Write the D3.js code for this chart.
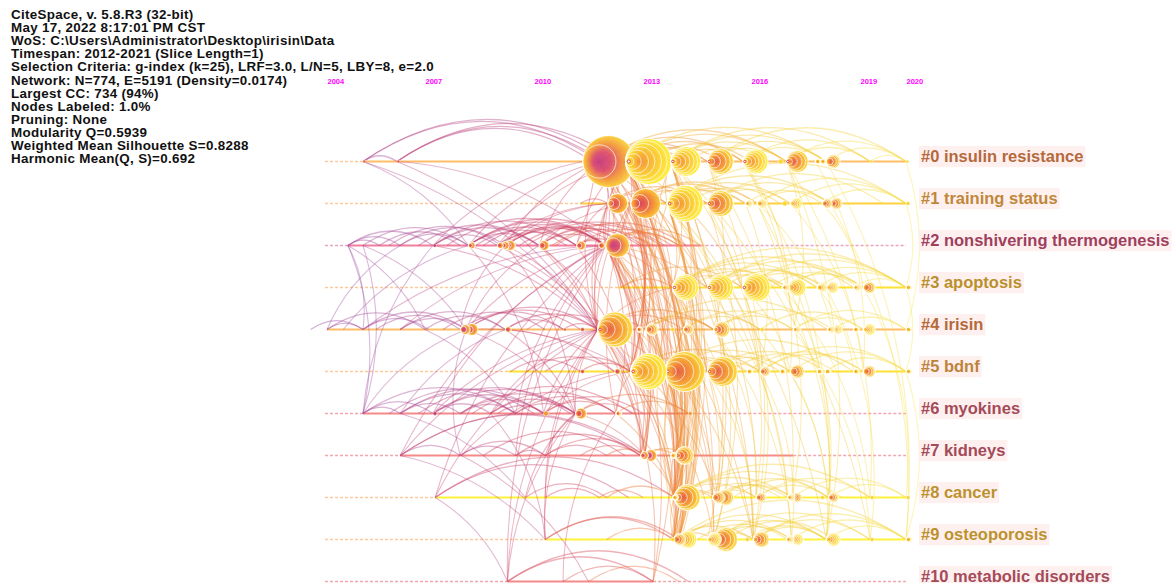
<!DOCTYPE html>
<html><head><meta charset="utf-8">
<script src="https://cdn.jsdelivr.net/npm/d3@7"></script>
<style>
html,body{margin:0;padding:0;background:#fff;}
svg{display:block;}
</style></head><body>
<svg id="chart" width="1173" height="583"></svg>
<script>
// ---------------- data ----------------
const headerLines = [
  "CiteSpace, v. 5.8.R3 (32-bit)",
  "May 17, 2022 8:17:01 PM CST",
  "WoS: C:\\Users\\Administrator\\Desktop\\irisin\\Data",
  "Timespan: 2012-2021 (Slice Length=1)",
  "Selection Criteria: g-index (k=25), LRF=3.0, L/N=5, LBY=8, e=2.0",
  "Network: N=774, E=5191 (Density=0.0174)",
  "Largest CC: 734 (94%)",
  "Nodes Labeled: 1.0%",
  "Pruning: None",
  "Modularity Q=0.5939",
  "Weighted Mean Silhouette S=0.8288",
  "Harmonic Mean(Q, S)=0.692"
];
const yearTicks = [2004, 2007, 2010, 2013, 2016, 2019, 2020];
const clusterIds = [0,1,2,3,4,5,6,7,8,9,10];
const clusterLabels = ["#0 insulin resistance","#1 training status","#2 nonshivering thermogenesis","#3 apoptosis","#4 irisin","#5 bdnf","#6 myokines","#7 kidneys","#8 cancer","#9 osteoporosis","#10 metabolic disorders"];
// solid part of each timeline [start, end]
const lineSpans = [[2005.10,2020],[2011.28,2020],[2004.64,2014.60],[2012.33,2020],[2004.0,2020],[2009.30,2020],[2005.10,2014.26],[2006.24,2017.16],[2007.28,2020],[2010.31,2020],[2009.27,2013.28]];
// nodes: [cluster, year (left edge), radius, tone]
const nodes = [
 [0,2005.10,1.5,1],[0,2006.14,1.5,1],[0,2011.34,26,0],[0,2012.52,23,3],[0,2013.77,15,3],[0,2014.79,13,2],[0,2015.78,12.5,3],[0,2016.75,2.5,3],[0,2016.97,11,2],[0,2017.77,3,3],[0,2017.91,3,3],[0,2018.07,7,2],[0,2019.22,1.5,3],[0,2020,1.5,3],
 [1,2012.03,10,1],[1,2012.66,15,1],[1,2013.67,18,3],[1,2014.79,13,2],[1,2015.84,4,3],[1,2016.17,5,3],[1,2016.86,2.5,3],[1,2017.08,6,3],[1,2017.96,5,2],[1,2018.18,6,2],[1,2020,2,3],
 [2,2007.22,1.8,0],[2,2008.19,3.5,1],[2,2008.99,3,1],[2,2009.10,4,1],[2,2009.21,5,1],[2,2010.14,5,1],[2,2011.17,4.5,1],[2,2011.78,3,1],[2,2011.97,12,0],
 [3,2013.82,13,3],[3,2014.79,13,3],[3,2015.76,14,3],[3,2016.86,4,3],[3,2017.02,9,3],[3,2017.82,5,3],[3,2018.07,6,3],[3,2018.82,4,3],[3,2019.07,6,2],[3,2020,3,3],
 [4,2007.97,5,0],[4,2008.13,6,1],[4,2009.21,3,0],[4,2010.81,1.5,1],[4,2011.28,2,1],[4,2011.75,17.5,2],[4,2012.83,3,2],[4,2013.08,6,2],[4,2013.77,2,3],[4,2014.12,5,2],[4,2014.96,8,2],[4,2016.25,2,3],[4,2017.16,4,3],[4,2018.10,4,3],[4,2018.24,5,3],[4,2018.82,3,3],[4,2019.07,6,3],[4,2020,3,3],
 [5,2011.28,2,1],[5,2012.22,3,0],[5,2012.66,18,3],[5,2013.61,20,2],[5,2014.79,15,2],[5,2015.89,3,3],[5,2016.25,5,2],[5,2016.80,3,3],[5,2017.08,7,2],[5,2017.82,3,3],[5,2018.04,3,3],[5,2018.82,3,3],[5,2019.07,6,2],[5,2020,3,3],
 [6,2007.22,2,0],[6,2010.26,2.5,2],[6,2011.14,5.5,1],[6,2012.25,3,2],[6,2014.26,2,2],
 [7,2012.93,4,1],[7,2013.05,6,0],[7,2013.77,3,3],[7,2013.90,9,2],
 [8,2013.82,3,3],[8,2013.87,13,2],[8,2014.93,6,2],[8,2015.07,8,2],[8,2016.14,5,2],[8,2017.0,4,3],[8,2017.13,5,2],[8,2017.91,2,3],[8,2018.13,5,2],[8,2019.22,2,3],[8,2020,2,3],
 [9,2013.77,2,3],[9,2013.85,6,2],[9,2013.99,9,3],[9,2014.79,7,3],[9,2014.96,12,2],[9,2015.84,2,3],[9,2016.06,8,2],[9,2016.97,4,3],[9,2017.11,6,3],[9,2018.07,7,3],[9,2019.22,2,3],[9,2020,3,3]
];
// arcs inside one timeline: [cluster, year1, year2]
const sameRowArcs = [
 [0,2005.10,2006.14],[0,2005.10,2011.80],[0,2005.10,2012.10],[0,2006.14,2011.60],[0,2006.14,2011.90],[0,2006.14,2012.40],
 [0,2011.80,2013.77],[0,2011.80,2014.79],[0,2011.80,2015.78],[0,2011.80,2016.97],[0,2012.20,2014.20],[0,2012.52,2014.79],[0,2012.52,2015.78],[0,2012.52,2016.97],[0,2012.52,2018.07],[0,2012.80,2015.20],[0,2013.10,2016.00],[0,2013.77,2015.78],[0,2013.77,2016.97],[0,2013.77,2018.07],[0,2013.77,2019.22],[0,2014.20,2016.50],[0,2014.79,2016.97],[0,2014.79,2018.07],[0,2014.79,2020.00],[0,2015.78,2018.07],[0,2015.78,2019.22],[0,2016.97,2019.22],[0,2016.97,2020.00],[0,2018.07,2020.00],[0,2019.22,2020.00],[0,2012.52,2013.77],[0,2011.80,2012.52],
 [1,2011.28,2012.03],[1,2012.03,2012.66],[1,2012.03,2013.67],[1,2012.03,2014.79],[1,2012.66,2013.67],[1,2012.66,2014.79],[1,2012.66,2015.84],[1,2012.66,2016.17],[1,2013.00,2015.50],[1,2013.67,2015.84],[1,2013.67,2016.17],[1,2013.67,2017.08],[1,2013.67,2018.18],[1,2014.20,2016.80],[1,2014.79,2017.08],[1,2014.79,2018.18],[1,2014.79,2019.50],[1,2015.84,2017.96],[1,2016.17,2018.18],[1,2016.17,2020.00],[1,2017.08,2020.00],[1,2017.96,2020.00],[1,2013.67,2020.00],
 [2,2004.64,2005.60],[2,2004.64,2006.24],[2,2004.64,2007.22],[2,2005.10,2008.19],[2,2005.60,2007.97],[2,2005.90,2009.10],[2,2006.24,2008.19],[2,2006.24,2009.21],[2,2006.80,2010.14],[2,2007.22,2008.99],[2,2007.22,2010.14],[2,2007.22,2011.17],[2,2007.60,2011.97],[2,2008.19,2010.14],[2,2008.19,2011.17],[2,2008.19,2011.97],[2,2008.19,2012.52],[2,2008.60,2012.00],[2,2008.99,2011.17],[2,2008.99,2011.97],[2,2009.21,2011.97],[2,2009.21,2012.30],[2,2009.21,2013.00],[2,2009.60,2012.60],[2,2010.14,2011.97],[2,2010.14,2012.90],[2,2010.14,2013.50],[2,2010.60,2013.20],[2,2011.17,2011.97],[2,2011.17,2012.30],[2,2011.17,2013.80],[2,2011.78,2014.00],[2,2011.97,2013.30],[2,2011.97,2014.00],[2,2011.97,2014.60],[2,2010.50,2014.20],[2,2009.80,2013.60],[2,2008.40,2010.90],
 [3,2012.40,2013.82],[3,2012.40,2015.76],[3,2013.82,2014.79],[3,2013.82,2015.76],[3,2013.82,2016.86],[3,2013.82,2017.82],[3,2013.82,2020.00],[3,2014.30,2017.00],[3,2014.79,2016.86],[3,2014.79,2017.82],[3,2014.79,2019.07],[3,2014.79,2020.00],[3,2015.20,2018.00],[3,2015.76,2017.02],[3,2015.76,2018.07],[3,2015.76,2019.07],[3,2015.76,2020.00],[3,2016.50,2019.00],[3,2016.86,2019.07],[3,2017.02,2020.00],[3,2017.82,2020.00],[3,2018.82,2020.00],[3,2013.82,2018.82],
 [4,2003.50,2005.10],[4,2004.00,2005.10],[4,2004.00,2007.00],[4,2005.10,2007.10],[4,2005.10,2008.13],[4,2005.50,2007.97],[4,2006.24,2008.13],[4,2006.24,2009.21],[4,2007.00,2009.21],[4,2007.50,2010.30],[4,2007.97,2010.81],[4,2008.13,2011.28],[4,2008.13,2011.75],[4,2009.21,2011.75],[4,2009.21,2010.81],[4,2009.80,2012.20],[4,2010.81,2011.75],[4,2011.75,2013.08],[4,2011.75,2014.12],[4,2011.75,2014.96],[4,2012.83,2014.96],[4,2013.08,2014.96],[4,2013.08,2016.25],[4,2014.12,2016.25],[4,2014.12,2017.16],[4,2014.96,2017.16],[4,2014.96,2018.24],[4,2016.25,2019.07],[4,2017.16,2019.07],[4,2017.16,2020.00],[4,2018.24,2020.00],[4,2013.08,2018.10],
 [5,2009.35,2011.28],[5,2009.80,2012.22],[5,2010.30,2012.66],[5,2011.28,2012.66],[5,2012.22,2013.61],[5,2012.66,2013.61],[5,2012.66,2014.79],[5,2012.66,2016.25],[5,2013.20,2015.50],[5,2013.61,2014.79],[5,2013.61,2015.89],[5,2013.61,2017.08],[5,2013.61,2018.82],[5,2014.30,2016.80],[5,2014.79,2016.25],[5,2014.79,2017.08],[5,2014.79,2018.04],[5,2015.40,2018.30],[5,2015.89,2019.07],[5,2016.25,2019.07],[5,2017.08,2020.00],[5,2018.04,2020.00],[5,2016.25,2020.00],
 [6,2005.10,2006.24],[6,2005.10,2007.22],[6,2005.10,2009.49],[6,2005.90,2010.00],[6,2006.24,2007.97],[6,2006.24,2009.49],[6,2006.24,2010.26],[6,2006.80,2011.00],[6,2007.22,2008.80],[6,2007.22,2010.26],[6,2007.22,2011.14],[6,2007.97,2010.26],[6,2007.97,2011.14],[6,2008.30,2012.70],[6,2008.80,2011.14],[6,2008.80,2012.25],[6,2009.49,2011.14],[6,2009.49,2012.25],[6,2010.26,2012.25],[6,2010.26,2013.00],[6,2011.14,2012.74],[6,2011.14,2014.26],[6,2012.25,2014.26],[6,2009.00,2010.30],[6,2008.00,2009.50],
 [7,2006.24,2007.97],[7,2006.24,2012.93],[7,2006.24,2013.05],[7,2007.97,2009.49],[7,2007.97,2010.31],[7,2008.60,2012.50],[7,2009.49,2010.31],[7,2009.49,2012.93],[7,2010.31,2012.00],[7,2010.31,2013.05],[7,2011.28,2012.93],[7,2012.00,2013.05],[7,2012.93,2013.90],[7,2013.05,2014.20],
 [8,2007.28,2012.60],[8,2007.28,2013.87],[8,2009.76,2012.00],[8,2010.31,2011.80],[8,2011.80,2013.00],[8,2012.00,2013.87],[8,2013.87,2014.93],[8,2013.87,2015.07],[8,2013.87,2016.14],[8,2013.87,2017.13],[8,2013.87,2018.13],[8,2013.87,2019.22],[8,2014.50,2016.80],[8,2014.93,2016.14],[8,2014.93,2017.00],[8,2015.07,2017.13],[8,2015.07,2018.13],[8,2015.50,2018.50],[8,2016.14,2018.13],[8,2016.14,2019.22],[8,2017.13,2020.00],[8,2018.13,2020.00],
 [9,2010.31,2013.85],[9,2010.31,2014.00],[9,2012.00,2013.85],[9,2013.85,2014.96],[9,2013.85,2016.06],[9,2013.85,2020.00],[9,2013.99,2017.11],[9,2013.99,2018.07],[9,2014.50,2017.00],[9,2014.96,2016.06],[9,2014.96,2017.11],[9,2014.96,2018.07],[9,2014.96,2019.22],[9,2015.30,2018.30],[9,2015.84,2018.07],[9,2016.06,2018.07],[9,2016.06,2019.22],[9,2016.06,2020.00],[9,2017.11,2020.00],[9,2018.07,2020.00],
 [10,2009.27,2013.28],[10,2009.27,2014.26],[10,2010.80,2013.28],[10,2011.50,2014.00]
];
// links between timelines: [cluster1, year1, cluster2, year2]
const crossLinks = [
 [0,2011.80,7,2013.05],[0,2011.80,8,2013.87],[0,2011.80,9,2013.85],[0,2011.90,8,2013.90],[0,2012.52,7,2013.90],[0,2012.52,8,2013.87],[0,2012.52,9,2013.99],[0,2012.60,8,2013.82],[0,2012.70,9,2013.77],[0,2013.77,7,2013.90],[0,2013.77,8,2013.87],[0,2013.77,9,2013.99],[0,2013.85,9,2014.79],
 [1,2012.03,7,2013.05],[1,2012.03,8,2013.87],[1,2012.66,8,2013.87],[1,2012.66,9,2013.85],[1,2012.66,7,2012.93],[1,2013.67,7,2013.90],[1,2013.67,8,2013.87],[1,2013.67,9,2013.99],[1,2013.70,9,2013.85],
 [2,2011.97,7,2013.05],[2,2011.97,7,2012.93],[2,2011.97,8,2013.87],[2,2011.97,9,2013.85],[2,2011.17,7,2012.93],[2,2010.14,7,2013.05],
 [3,2013.82,7,2013.90],[3,2013.82,8,2013.87],[3,2013.82,9,2013.85],[3,2013.82,9,2013.99],
 [4,2011.75,7,2013.05],[4,2011.75,8,2013.87],[4,2011.75,9,2013.99],[4,2012.83,8,2013.87],[4,2013.08,9,2013.85],[4,2013.08,7,2013.90],
 [5,2012.66,7,2013.05],[5,2012.66,8,2013.87],[5,2012.66,9,2013.85],[5,2013.61,8,2013.87],[5,2013.61,9,2013.99],[5,2013.61,7,2013.90],[5,2012.22,7,2012.93],
 [6,2012.25,8,2013.87],[6,2011.14,7,2013.05],[7,2013.90,9,2013.99],[7,2013.05,8,2013.87],[8,2013.87,9,2013.85],
 [0,2012.52,10,2013.28],[2,2011.97,10,2013.28],[4,2011.75,10,2013.28],
 [1,2013.67,9,2013.95],[0,2013.80,8,2013.95],[3,2013.85,9,2013.90],[4,2014.12,9,2013.99],[4,2014.12,8,2013.87],[5,2013.70,8,2013.90],[5,2013.75,9,2014.00],[2,2012.10,8,2013.85],[2,2012.20,9,2013.99],[1,2012.70,9,2013.99],[0,2012.55,9,2013.85],[3,2013.90,8,2013.82],[4,2013.90,7,2013.90],[5,2013.65,9,2013.80],[4,2014.00,9,2014.05],[5,2013.80,8,2013.95],
 [1,2012.66,5,2012.70],[0,2012.55,5,2012.66],[2,2012.20,5,2012.66],[1,2012.70,4,2012.83],[0,2012.60,4,2012.83],[2,2011.97,4,2012.83],[1,2012.66,3,2012.40],[0,2012.52,3,2012.40],[2,2012.00,6,2012.25],[1,2012.70,6,2012.25],[4,2012.83,7,2012.93],[5,2012.70,6,2012.25],[2,2012.05,5,2012.75],[1,2012.60,5,2012.80],
 [0,2011.80,1,2012.03],[0,2011.80,1,2012.66],[0,2011.80,2,2011.97],[0,2011.80,3,2013.82],[0,2011.80,4,2011.75],[0,2011.80,5,2012.66],[0,2011.80,5,2013.61],
 [0,2012.52,1,2012.66],[0,2012.52,2,2011.97],[0,2012.52,3,2013.82],[0,2012.52,4,2013.08],[0,2012.52,5,2012.66],[0,2012.52,5,2013.61],[0,2012.52,4,2011.75],
 [0,2013.77,1,2013.67],[0,2013.77,3,2013.82],[0,2013.77,5,2013.61],[0,2013.77,4,2014.12],
 [1,2012.03,2,2011.97],[1,2012.03,4,2011.75],[1,2012.66,4,2011.75],[1,2012.66,5,2012.66],[1,2012.66,4,2013.08],[1,2013.67,3,2013.82],[1,2013.67,5,2013.61],[1,2013.67,4,2014.12],
 [2,2011.97,4,2011.75],[2,2011.97,5,2012.66],[2,2011.97,3,2013.82],[2,2011.97,5,2013.61],
 [3,2013.82,5,2013.61],[3,2013.82,4,2014.12],[4,2011.75,5,2012.66],[4,2011.75,5,2013.61],[4,2013.08,5,2013.61],
 [0,2011.80,2,2008.19],[0,2011.80,2,2009.21],[0,2011.80,2,2010.14],[0,2012.52,2,2011.17],[0,2012.52,2,2008.99],[1,2012.03,2,2008.99],[1,2012.66,2,2010.14],[1,2012.03,2,2011.17],[0,2011.34,2,2007.22],[1,2012.03,2,2009.21],
 [0,2006.14,2,2011.97],[0,2005.10,4,2011.75],[0,2006.14,4,2011.75],[0,2005.10,2,2008.19],
 [4,2005.10,2,2011.97],[4,2006.24,2,2011.97],[4,2008.13,2,2011.97],[4,2008.13,2,2010.14],[4,2007.97,2,2009.21],[2,2007.22,4,2011.75],[2,2008.19,4,2011.75],[2,2005.10,4,2008.13],[2,2009.21,4,2011.75],[2,2010.14,4,2011.75],
 [6,2007.22,4,2011.75],[6,2005.10,4,2008.13],[6,2008.80,4,2011.75],[6,2011.14,4,2011.75],[6,2007.22,2,2011.97],[6,2009.49,2,2011.97],[6,2006.24,4,2009.21],[6,2010.26,4,2011.75],
 [7,2006.24,4,2011.75],[7,2009.49,2,2011.97],[7,2006.24,2,2011.97],[7,2007.97,4,2008.13],[7,2010.31,6,2011.14],
 [4,2009.21,6,2011.14],[2,2009.21,6,2011.14],[2,2008.19,6,2010.26],[4,2008.13,6,2011.14],
 [2,2010.14,5,2012.66],[4,2008.13,5,2012.66],[6,2010.26,5,2012.66],[4,2009.21,5,2012.22],[2,2008.99,5,2012.66],
 [8,2007.28,4,2011.75],[8,2009.76,6,2011.14],[8,2007.28,2,2011.97],[8,2010.31,4,2011.75],
 [10,2009.27,6,2011.14],[10,2009.27,4,2011.75],[10,2009.27,2,2011.97],[10,2010.80,6,2012.25],
 [7,2008.00,5,2012.22],[9,2010.31,6,2011.14],[9,2010.31,4,2011.75],
 [2,2004.64,6,2005.10],[2,2004.64,4,2005.10],[2,2005.10,6,2005.10],[4,2004.50,2,2008.19],[2,2004.64,4,2007.00],[3,2010.50,2,2011.97],
 [4,2004.00,2,2006.24],[6,2005.10,2,2007.22],[4,2007.00,6,2009.49],[6,2006.24,8,2009.76],[7,2006.24,9,2010.31],[6,2008.80,9,2010.31],[8,2007.28,10,2009.27],[7,2008.00,10,2011.50],
 [0,2015.78,5,2017.08],[0,2016.97,9,2018.07],[1,2016.17,8,2017.13],[0,2018.07,9,2020.00],[1,2018.18,9,2020.00],[3,2015.76,9,2016.06],[3,2017.02,8,2018.13],[0,2014.79,9,2016.06],[1,2014.79,8,2016.14],[0,2012.52,9,2016.06],[1,2013.67,9,2017.11],[0,2013.77,5,2016.25],[0,2012.52,3,2015.76],[1,2012.66,3,2014.79],[0,2013.77,8,2015.07],[1,2014.79,9,2014.96],[3,2014.79,9,2014.96],[3,2013.82,8,2015.07],[5,2014.79,9,2016.06],[4,2014.96,9,2017.11],[5,2017.08,9,2018.07],[4,2016.25,8,2018.13],[0,2016.97,4,2017.16],[1,2017.08,5,2019.07],[3,2018.07,9,2019.22],[5,2013.61,9,2014.96],[4,2013.08,8,2015.07],[0,2011.80,9,2014.96],[2,2011.97,9,2016.06],[1,2012.66,8,2014.93],[0,2015.78,8,2018.13],[1,2016.17,4,2018.24],[3,2016.86,9,2018.07],[0,2012.52,9,2018.07],[0,2013.77,9,2019.22],[1,2015.84,5,2016.25],[3,2015.76,5,2017.08],[3,2017.82,5,2018.82],[0,2014.79,4,2014.96],[1,2014.79,3,2015.76],[0,2015.78,3,2017.02],[1,2017.96,3,2019.07],[0,2014.79,8,2017.13],[1,2013.67,8,2016.14],[3,2014.79,8,2017.00],[4,2014.96,8,2016.14],[5,2014.79,8,2015.07],[5,2016.25,9,2017.11],[4,2017.16,9,2019.22],[3,2019.07,8,2020.00],[1,2020.00,3,2020.00],[3,2020.00,5,2020.00],[5,2020.00,9,2020.00],[0,2020.00,4,2020.00],[1,2012.03,5,2014.79],[0,2011.80,3,2014.79],[2,2011.97,3,2014.79],[2,2011.97,5,2014.79],[4,2011.75,3,2013.82],[4,2011.75,8,2015.07],[5,2012.66,9,2014.96],[0,2012.52,5,2014.79],[1,2013.67,5,2016.25],[3,2013.82,9,2016.06],[2,2011.97,8,2014.93],[4,2012.83,9,2016.06],[0,2016.97,8,2019.22],[1,2016.17,9,2018.07],[3,2016.86,8,2019.22],[0,2017.77,5,2019.07]
];
// colours
const labelColors = ["#b5693c","#c0873a","#9e3f5e","#b9902c","#b36a3a","#bd833a","#a44a58","#a44a58","#bb922c","#bb922c","#a44a58"];
const lineColors = ["#ffbd66","#ffd23c","#f47e9c","#ffe233","#ffbd66","#ffe233","#f58a8a","#f58a8a","#fff23a","#fff23a","#f58a8a"];
const dashColors = ["#fdc99a","#fdc99a","#eba4c4","#fdc99a","#fdc99a","#fdc99a","#f4a6b0","#f4a6b0","#fdc99a","#fdc99a","#f4a6b0"];
const linkYears = [2005,2008,2010,2011.8,2012.8,2014.2,2015.5,2020];
const linkColors = ["#a04aa0","#b04a90","#c8406c","#d84858","#ea7038","#f0a030","#f4c838","#f7e44a"];
const toneStops = [
  [[0,"#c43d82"],[0.35,"#dc4d6e"],[0.7,"#f39a3c"],[1,"#fcd43c"]],
  [[0,"#d43f5e"],[0.45,"#ee6e40"],[0.8,"#f6a832"],[1,"#fbc83a"]],
  [[0,"#e45a46"],[0.4,"#f28a36"],[0.75,"#f8b830"],[1,"#fde03c"]],
  [[0,"#f29034"],[0.35,"#f8b630"],[0.7,"#fcd834"],[1,"#fff03e"]]
];
const dotColors = ["#c8406c","#e0604a","#f09a36","#f8d634"];
const ringFracs = [[0.64],[0.3,0.6],[0.28,0.5,0.72,0.88],[0.18,0.34,0.5,0.64,0.78,0.9]];

// ---------------- drawing ----------------
const svg = d3.select("#chart");
const x = d3.scaleLinear().domain(yearTicks).range([327,425,534,643,751,860,906]);
const y = d3.scaleLinear().domain([0,10]).range([161.5,581.5]);
const linkColor = d3.scaleLinear().domain(linkYears).range(linkColors);

svg.append("rect").attr("width",1173).attr("height",583).attr("fill","#fff");

const defs = svg.append("defs");
toneStops.forEach((stops,i)=>{
  const g = defs.append("radialGradient").attr("id","tone"+i)
    .attr("cx","0.5").attr("cy","0.5").attr("r","0.5").attr("fx","0.3").attr("fy","0.5");
  stops.forEach(s=>g.append("stop").attr("offset",s[0]).attr("stop-color",s[1]));
});

// header
const hdr = svg.append("g")
  .attr("font-family","'Liberation Sans', Arial, sans-serif")
  .attr("font-weight","bold").attr("font-size","13.4px").attr("letter-spacing","0.3px").attr("fill","#111");
headerLines.forEach((t,i)=>hdr.append("text").attr("x",11).attr("y",19.3+i*13.04).text(t));

// year axis
const axis = d3.axisTop(x).tickValues(yearTicks).tickFormat(d3.format("d")).tickSize(0).tickPadding(0);
const ag = svg.append("g").attr("transform","translate(0,84)").call(axis);
ag.select(".domain").remove();
ag.selectAll("text").attr("text-anchor","start").attr("fill","#ff00ff")
  .attr("font-family","'Liberation Sans', Arial, sans-serif").attr("font-weight","bold").attr("font-size","7.5px");

// timelines
const lines = svg.append("g");
clusterIds.forEach(c=>{
  const [s,e] = lineSpans[c];
  const yy = y(c);
  if (s > 2004) lines.append("line").attr("x1",x(2004)-2).attr("x2",x(s)).attr("y1",yy).attr("y2",yy)
     .attr("stroke",dashColors[c]).attr("stroke-width",1.5).attr("stroke-dasharray","3,2");
  lines.append("line").attr("x1",x(s)).attr("x2",x(e)).attr("y1",yy).attr("y2",yy)
     .attr("stroke",lineColors[c]).attr("stroke-width",2.2);
  if (e < 2020) lines.append("line").attr("x1",x(e)).attr("x2",x(2020)).attr("y1",yy).attr("y2",yy)
     .attr("stroke",dashColors[c]).attr("stroke-width",1.5).attr("stroke-dasharray","3,2");
});

// links
function arcPath(x1,y1,x2,y2){
  if (x1 > x2 || (x1===x2 && y1>y2)) { [x1,x2]=[x2,x1]; [y1,y2]=[y2,y1]; }
  const mx=(x1+x2)/2, my=(y1+y2)/2;
  if (Math.abs(y1-y2)<0.01){
    const h = Math.min(0.17*(x2-x1), 44);
    return `M${x1},${y1}Q${mx},${y1-2*h} ${x2},${y2}`;
  }
  const dx=x2-x1, dy=y2-y1, len=Math.hypot(dx,dy);
  const off = Math.min(0.16*len, 70);
  const cx = mx + dy/len*off, cy = my - dx/len*off;
  return `M${x1},${y1}Q${cx},${cy} ${x2},${y2}`;
}
const allLinks = [];
sameRowArcs.forEach(a=>allLinks.push({c1:a[0],t1:a[1],c2:a[0],t2:a[2],same:true}));
crossLinks.forEach(a=>allLinks.push({c1:a[0],t1:a[1],c2:a[2],t2:a[3],same:false}));
allLinks.forEach(l=>l.key=(l.t1+l.t2)/2);
allLinks.sort((a,b)=>a.key-b.key);
svg.append("g").attr("fill","none").selectAll("path").data(allLinks).join("path")
  .attr("d",l=>arcPath(x(l.t1),y(l.c1),x(l.t2),y(l.c2)))
  .attr("stroke",l=>linkColor(l.key))
  .attr("stroke-width",l=>l.same?1.3:1.1)
  .attr("stroke-opacity",l=>l.same?0.42:0.38);

// nodes
const ng = svg.append("g");
const sorted = nodes.slice().sort((a,b)=>b[2]-a[2]);
sorted.forEach(([c,t,r,tone])=>{
  const xl = x(t), cy = y(c);
  if (r <= 2.5){
    ng.append("circle").attr("cx",xl+r).attr("cy",cy).attr("r",r)
      .attr("fill",dotColors[tone]).attr("stroke","#fff").attr("stroke-width",0.5);
    return;
  }
  ng.append("circle").attr("cx",xl+r).attr("cy",cy).attr("r",r)
    .attr("fill",`url(#tone${tone})`).attr("stroke","#fff").attr("stroke-width",0.9).attr("fill-opacity",0.96);
  ringFracs[tone].forEach(f=>{
    const rr = r*f;
    if (rr < 2) return;
    ng.append("circle").attr("cx",xl+rr).attr("cy",cy).attr("r",rr)
      .attr("fill","none").attr("stroke","#fff").attr("stroke-width",0.8).attr("stroke-opacity",0.85);
  });
  if (tone >= 2 && r >= 9){
    ng.append("circle").attr("cx",xl+r*0.14).attr("cy",cy).attr("r",Math.max(1.2,r*0.07))
      .attr("fill","#fff").attr("stroke","#e04848").attr("stroke-width",1);
  }
});

// cluster labels
const lg = svg.append("g").attr("font-family","'Liberation Sans', Arial, sans-serif")
  .attr("font-weight","bold").attr("font-size","16.5px");
clusterIds.forEach(c=>{
  const yy = y(c);
  const bg = lg.append("rect").attr("fill","#fff0f0");
  const t = lg.append("text").attr("x",921).attr("y",yy).attr("fill",labelColors[c]).text(clusterLabels[c]);
  const w = t.node().getComputedTextLength();
  bg.attr("x",919).attr("y",yy-15.5).attr("width",w+4).attr("height",21.2);
});
</script>
</body></html>
